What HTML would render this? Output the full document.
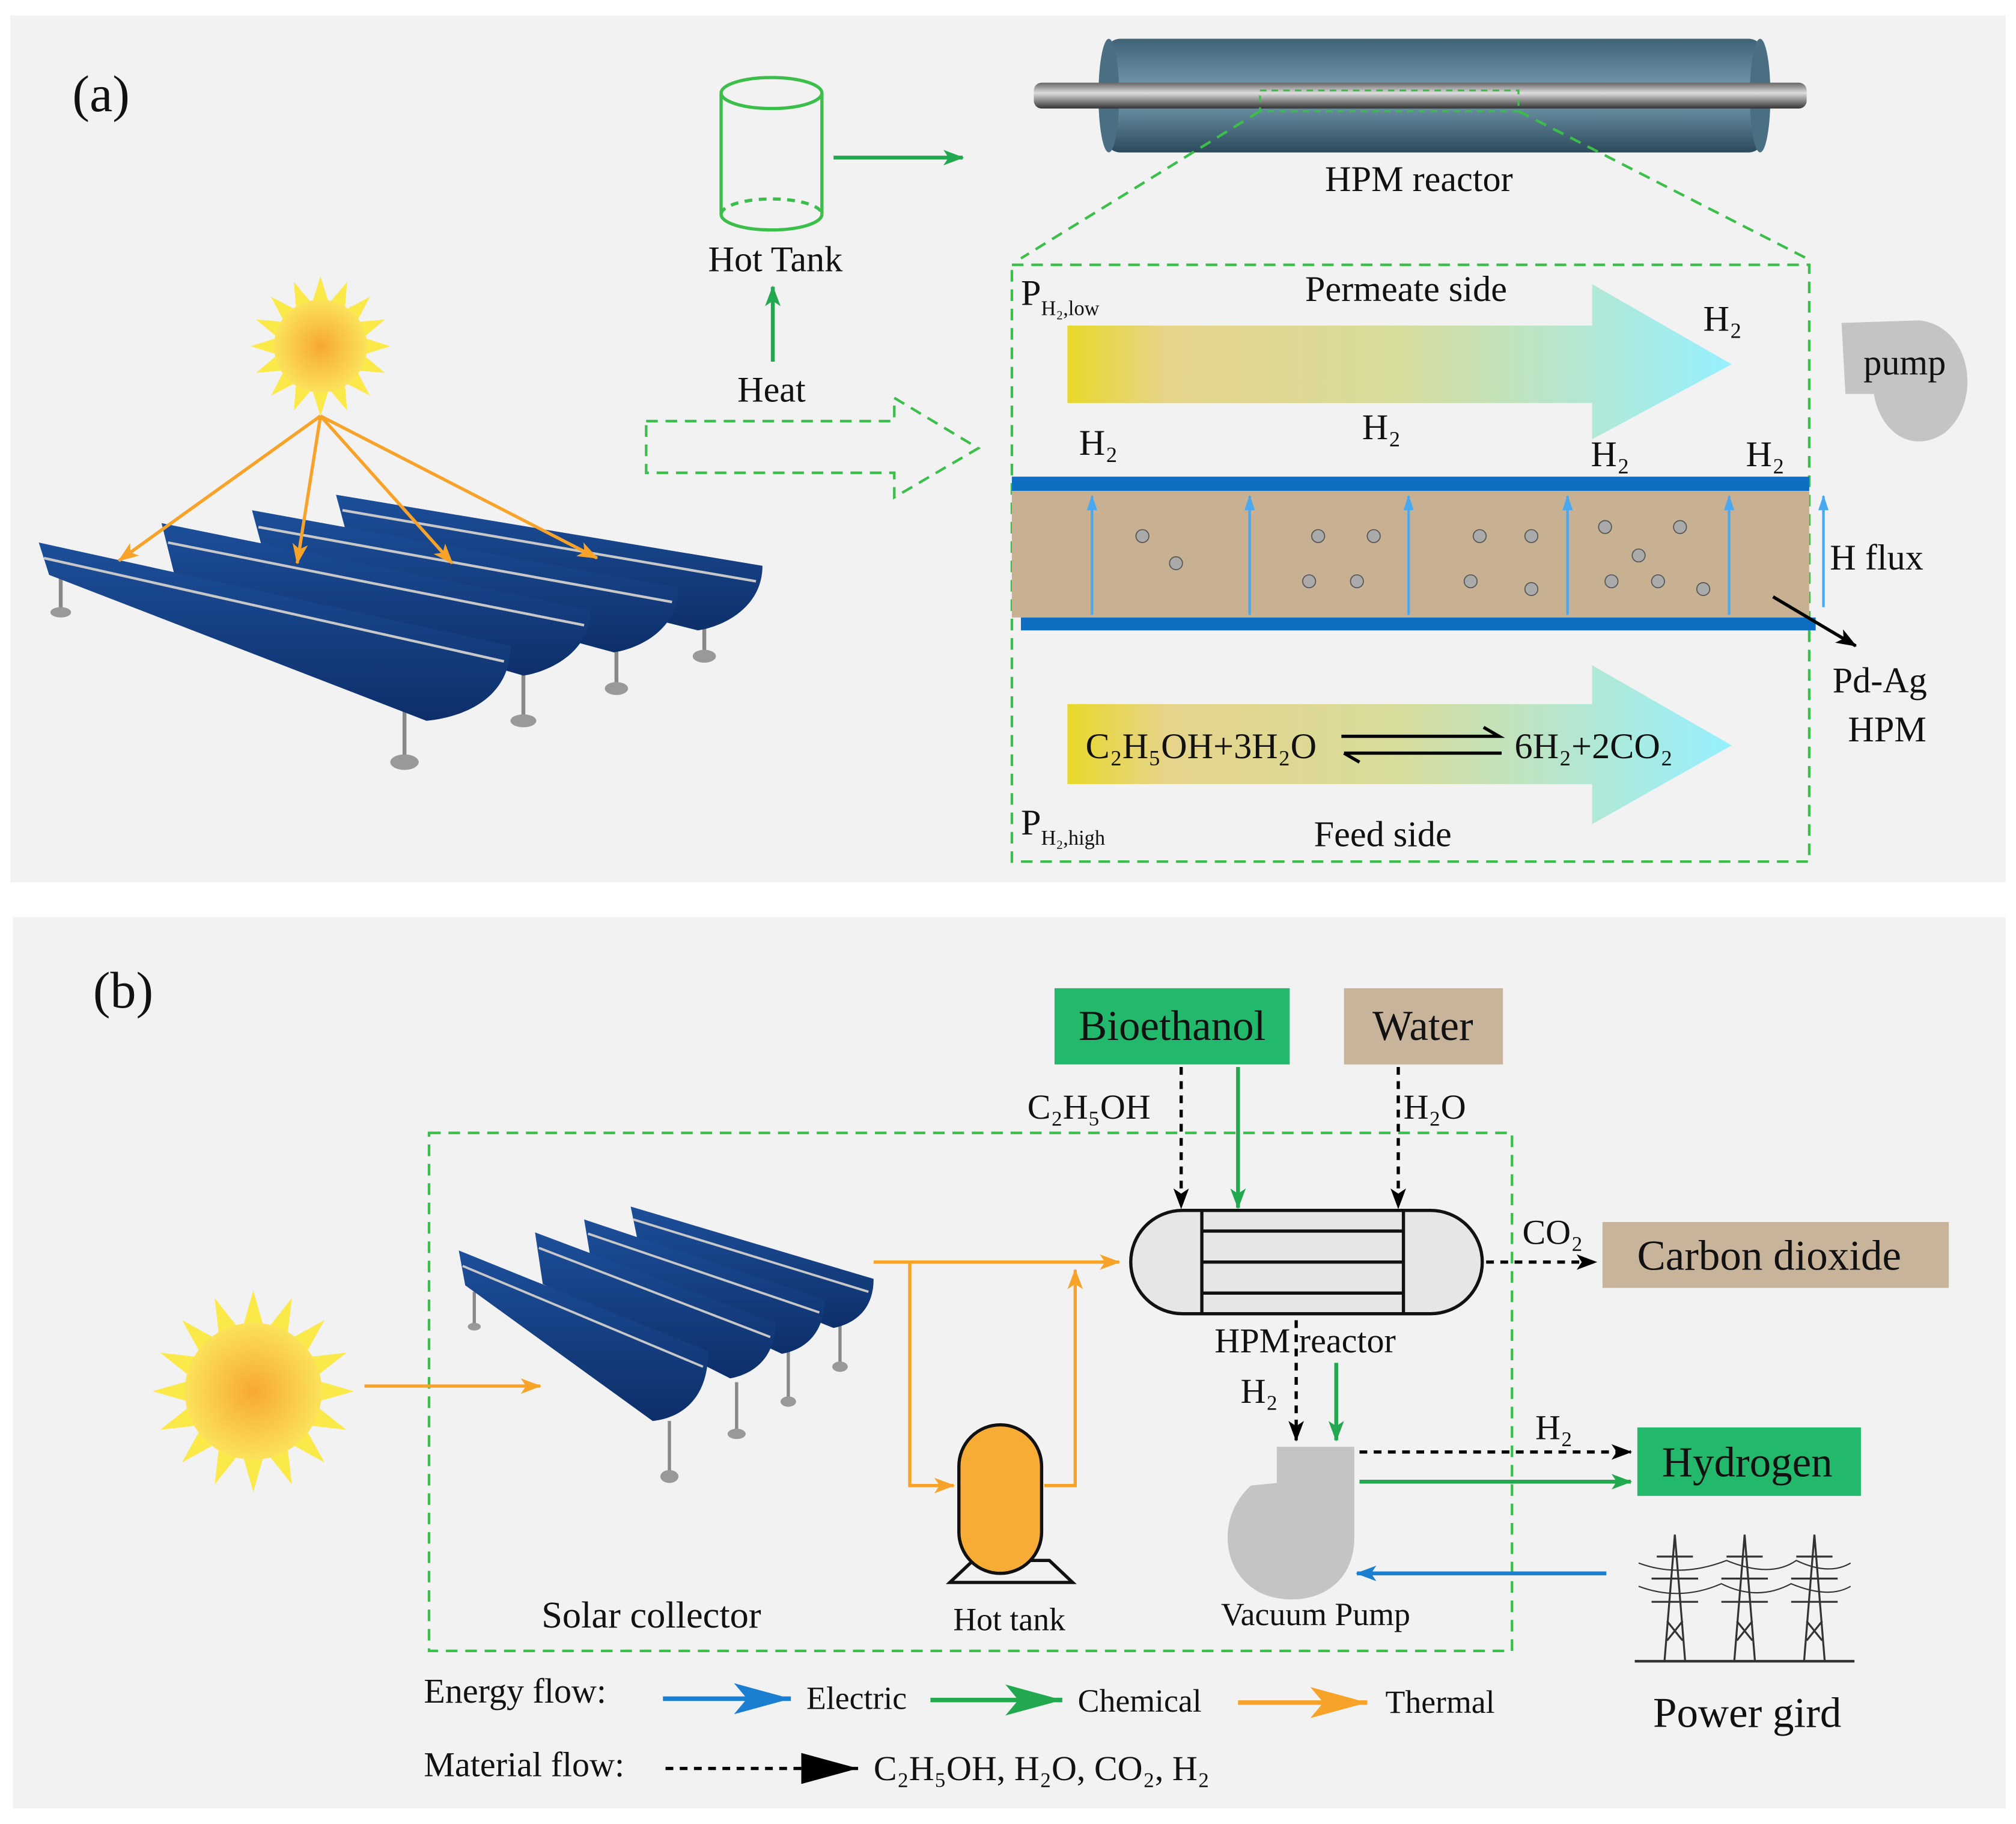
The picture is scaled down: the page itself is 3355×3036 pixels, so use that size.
<!DOCTYPE html>
<html><head><meta charset="utf-8"><style>
html,body{margin:0;padding:0;background:#fff;}
svg{display:block;}
text{font-family:"Liberation Serif",serif;fill:#111;}
</style></head><body>
<svg width="3355" height="3036" viewBox="0 0 1560 1412" preserveAspectRatio="none" xmlns="http://www.w3.org/2000/svg">
<defs>
<marker id="aO" markerWidth="16" markerHeight="12" refX="15" refY="6" orient="auto" markerUnits="userSpaceOnUse"><path d="M0,0 L16,6 L0,12 L4,6z" fill="#f7a32a"/></marker>
<marker id="ag" markerWidth="16" markerHeight="12" refX="15" refY="6" orient="auto" markerUnits="userSpaceOnUse"><path d="M0,0 L16,6 L0,12 L4,6z" fill="#22a94f"/></marker>
<marker id="ak" markerWidth="16" markerHeight="12" refX="15" refY="6" orient="auto" markerUnits="userSpaceOnUse"><path d="M0,0 L16,6 L0,12 L4,6z" fill="#000"/></marker>
<marker id="ab" markerWidth="16" markerHeight="12" refX="15" refY="6" orient="auto" markerUnits="userSpaceOnUse"><path d="M0,0 L16,6 L0,12 L4,6z" fill="#1a7fd0"/></marker>
<marker id="LO" markerWidth="44" markerHeight="24" refX="44" refY="12" orient="auto" markerUnits="userSpaceOnUse"><path d="M0,0 L44,12 L0,24 L10,12z" fill="#f7a32a"/></marker>
<marker id="Lg" markerWidth="44" markerHeight="24" refX="44" refY="12" orient="auto" markerUnits="userSpaceOnUse"><path d="M0,0 L44,12 L0,24 L10,12z" fill="#22a94f"/></marker>
<marker id="Lb" markerWidth="44" markerHeight="24" refX="44" refY="12" orient="auto" markerUnits="userSpaceOnUse"><path d="M0,0 L44,12 L0,24 L10,12z" fill="#1a7fd0"/></marker>
<marker id="Lk" markerWidth="44" markerHeight="24" refX="44" refY="12" orient="auto" markerUnits="userSpaceOnUse"><path d="M0,0 L44,12 L0,24z" fill="#000"/></marker>
<marker id="alb" markerWidth="12" markerHeight="8" refX="11" refY="4" orient="auto" markerUnits="userSpaceOnUse"><path d="M0,0 L12,4 L0,8z" fill="#4aa8f0"/></marker>
<linearGradient id="grad" x1="0" x2="1"><stop offset="0" stop-color="#e8d82a"/><stop offset="0.15" stop-color="#e6d48a"/><stop offset="0.5" stop-color="#d7dc9c"/><stop offset="1" stop-color="#96f0ff"/></linearGradient>
<radialGradient id="sun"><stop offset="0" stop-color="#f7a830"/><stop offset="1" stop-color="#fbe25a"/></radialGradient>
<linearGradient id="tube" x1="0" y1="0" x2="0" y2="1"><stop offset="0" stop-color="#666"/><stop offset="0.4" stop-color="#ddd"/><stop offset="1" stop-color="#333"/></linearGradient>
<linearGradient id="shell" x1="0" y1="0" x2="0" y2="1"><stop offset="0" stop-color="#3f6276"/><stop offset="0.5" stop-color="#7aa0b4"/><stop offset="1" stop-color="#2c4a5c"/></linearGradient>
<linearGradient id="trough" x1="0" y1="0" x2="0" y2="1"><stop offset="0" stop-color="#1d4f9a"/><stop offset="1" stop-color="#0d2f6a"/></linearGradient>
</defs>

<rect x="8" y="12" width="1544" height="671" fill="#f2f2f2"/>
<rect x="10" y="710" width="1542" height="690" fill="#f2f2f2"/>

<!-- ========== (a) ========== -->
<text x="56" y="86" font-size="40">(a)</text>

<g fill="none" stroke="#3cbf4a" stroke-width="2.5">
<path d="M558,72 L558,166 M636,72 L636,166"/>
<ellipse cx="597" cy="72" rx="39" ry="12"/>
<path d="M558,166 A39,12 0 0 0 636,166"/>
<path d="M558,166 A39,12 0 0 1 636,166" stroke-dasharray="6,5"/>
</g>
<text x="600" y="210" font-size="28" text-anchor="middle">Hot Tank</text>
<line x1="598" y1="280" x2="598" y2="222" stroke="#22a94f" stroke-width="3" marker-end="url(#ag)"/>
<text x="597" y="311" font-size="28" text-anchor="middle">Heat</text>
<line x1="645" y1="122" x2="745" y2="122" stroke="#22a94f" stroke-width="3" marker-end="url(#ag)"/>

<rect x="855" y="30" width="510" height="88" rx="12" fill="url(#shell)"/>
<ellipse cx="858" cy="74" rx="8" ry="44" fill="#4a6e82"/>
<ellipse cx="1362" cy="74" rx="8" ry="44" fill="#4a6e82"/>
<rect x="800" y="64" width="598" height="20" rx="6" fill="url(#tube)"/>
<rect x="975" y="70" width="200" height="16" fill="none" stroke="#3cbf4a" stroke-width="1.5" stroke-dasharray="5,4"/>
<text x="1098" y="148" font-size="28" text-anchor="middle">HPM reactor</text>
<g stroke="#3cbf4a" stroke-width="2" stroke-dasharray="9,6" fill="none">
<line x1="975" y1="86" x2="790" y2="200"/>
<line x1="1175" y1="86" x2="1398" y2="200"/>
<rect x="783" y="205" width="617" height="462"/>
<path d="M500,326 L692,326 L692,308 L757,347 L692,385 L692,366 L500,366 Z"/>
</g>

<path d="M826,252 L1232,252 L1232,220 L1340,282 L1232,340 L1232,312 L826,312 Z" fill="url(#grad)"/>
<text x="1088" y="233" font-size="28" text-anchor="middle">Permeate side</text>
<text x="790" y="236" font-size="28">P<tspan font-size="16" dy="8">H₂,low</tspan></text>
<text x="1318" y="256" font-size="28">H₂</text>
<text x="1054" y="340" font-size="28">H₂</text>
<text x="835" y="352" font-size="28">H₂</text>
<text x="1231" y="361" font-size="28">H₂</text>
<text x="1351" y="361" font-size="28">H₂</text>
<path d="M1425,250 L1485,248 C1525,252 1535,310 1505,335 C1480,352 1455,335 1450,305 L1428,305 Z" fill="#c4c4c4"/>
<text x="1442" y="290" font-size="28">pump</text>

<rect x="783" y="369" width="617" height="11" fill="#0e6fc2"/>
<rect x="783" y="380" width="617" height="98" fill="#c8b092"/>
<rect x="790" y="478" width="615" height="10" fill="#0e6fc2"/>
<g stroke="#4aa8f0" stroke-width="2">
<line x1="845" y1="476" x2="845" y2="384" marker-end="url(#alb)"/>
<line x1="967" y1="476" x2="967" y2="384" marker-end="url(#alb)"/>
<line x1="1090" y1="476" x2="1090" y2="384" marker-end="url(#alb)"/>
<line x1="1213" y1="476" x2="1213" y2="384" marker-end="url(#alb)"/>
<line x1="1338" y1="476" x2="1338" y2="384" marker-end="url(#alb)"/>
<line x1="1411" y1="470" x2="1411" y2="384" marker-end="url(#alb)"/>
</g>
<g fill="#aaa" stroke="#555" stroke-width="0.8">
<circle cx="884" cy="415" r="5"/><circle cx="910" cy="436" r="5"/>
<circle cx="1020" cy="415" r="5"/><circle cx="1063" cy="415" r="5"/><circle cx="1013" cy="450" r="5"/><circle cx="1050" cy="450" r="5"/>
<circle cx="1145" cy="415" r="5"/><circle cx="1185" cy="415" r="5"/><circle cx="1138" cy="450" r="5"/><circle cx="1185" cy="456" r="5"/>
<circle cx="1242" cy="408" r="5"/><circle cx="1300" cy="408" r="5"/><circle cx="1268" cy="430" r="5"/><circle cx="1247" cy="450" r="5"/><circle cx="1283" cy="450" r="5"/><circle cx="1318" cy="456" r="5"/>
</g>
<text x="1416" y="441" font-size="28">H flux</text>
<line x1="1372" y1="462" x2="1436" y2="500" stroke="#000" stroke-width="2.5" marker-end="url(#ak)"/>
<text x="1418" y="536" font-size="28">Pd-Ag</text>
<text x="1430" y="574" font-size="28">HPM</text>

<path d="M826,545 L1232,545 L1232,515 L1340,577 L1232,638 L1232,607 L826,607 Z" fill="url(#grad)"/>
<text x="840" y="587" font-size="28">C₂H₅OH+3H₂O</text>
<path d="M1038,570 L1160,570 L1148,563 M1040,583 L1162,583 M1040,583 L1052,590" stroke="#000" stroke-width="2.5" fill="none"/>
<text x="1172" y="587" font-size="28">6H₂+2CO₂</text>
<text x="790" y="646" font-size="28">P<tspan font-size="16" dy="8">H₂,high</tspan></text>
<text x="1070" y="655" font-size="28" text-anchor="middle">Feed side</text>

<g transform="translate(248,268)">
<g fill="#fbe94a">
<path d="M0,-54 L6,-35 L-6,-35Z M0,54 L6,35 L-6,35Z M-54,0 L-35,6 L-35,-6Z M54,0 L35,6 L35,-6Z"/>
<path d="M0,-54 L6,-35 L-6,-35Z" transform="rotate(22.5)"/><path d="M0,-54 L6,-35 L-6,-35Z" transform="rotate(45)"/><path d="M0,-54 L6,-35 L-6,-35Z" transform="rotate(67.5)"/>
<path d="M0,-54 L6,-35 L-6,-35Z" transform="rotate(112.5)"/><path d="M0,-54 L6,-35 L-6,-35Z" transform="rotate(135)"/><path d="M0,-54 L6,-35 L-6,-35Z" transform="rotate(157.5)"/>
<path d="M0,-54 L6,-35 L-6,-35Z" transform="rotate(202.5)"/><path d="M0,-54 L6,-35 L-6,-35Z" transform="rotate(225)"/><path d="M0,-54 L6,-35 L-6,-35Z" transform="rotate(247.5)"/>
<path d="M0,-54 L6,-35 L-6,-35Z" transform="rotate(292.5)"/><path d="M0,-54 L6,-35 L-6,-35Z" transform="rotate(315)"/><path d="M0,-54 L6,-35 L-6,-35Z" transform="rotate(337.5)"/>
</g>
<circle r="36" fill="url(#sun)"/>
</g>

<g>
<g stroke="#888" stroke-width="3"><line x1="545" y1="470" x2="545" y2="505"/><line x1="477" y1="495" x2="477" y2="530"/><line x1="405" y1="520" x2="405" y2="556"/><line x1="313" y1="550" x2="313" y2="588"/><line x1="47" y1="440" x2="47" y2="472"/></g>
<g fill="#999"><ellipse cx="545" cy="508" rx="9" ry="5"/><ellipse cx="477" cy="533" rx="9" ry="5"/><ellipse cx="405" cy="558" rx="10" ry="5"/><ellipse cx="313" cy="590" rx="11" ry="6"/><ellipse cx="47" cy="474" rx="8" ry="4"/></g>
<path d="M260,383 L590,438 C590,470 560,485 540,488 L270,420 Z" fill="url(#trough)"/>
<path d="M195,395 L525,455 C525,487 495,502 475,505 L205,432 Z" fill="url(#trough)"/>
<path d="M125,405 L457,472 C457,505 425,520 405,523 L135,445 Z" fill="url(#trough)"/>
<path d="M30,420 L395,500 C395,540 360,555 330,558 L38,445 Z" fill="url(#trough)"/>
<g stroke="#c8c8c8" stroke-width="2"><line x1="265" y1="395" x2="585" y2="450"/><line x1="200" y1="408" x2="520" y2="466"/><line x1="130" y1="420" x2="452" y2="484"/><line x1="34" y1="432" x2="390" y2="512"/></g>
</g>
<g stroke="#f7a32a" stroke-width="2.5" fill="none">
<line x1="248" y1="322" x2="92" y2="434" marker-end="url(#aO)"/>
<line x1="248" y1="322" x2="230" y2="436" marker-end="url(#aO)"/>
<line x1="248" y1="322" x2="350" y2="436" marker-end="url(#aO)"/>
<line x1="248" y1="322" x2="462" y2="432" marker-end="url(#aO)"/>
</g>

<!-- ========== (b) ========== -->
<text x="72" y="780" font-size="40">(b)</text>
<rect x="332" y="877" width="838" height="401" fill="none" stroke="#3cbf4a" stroke-width="2" stroke-dasharray="9,6"/>

<rect x="816" y="765" width="182" height="59" fill="#23b96c"/>
<text x="907" y="805" font-size="33" text-anchor="middle">Bioethanol</text>
<rect x="1040" y="765" width="123" height="59" fill="#c8b49a"/>
<text x="1101" y="805" font-size="33" text-anchor="middle">Water</text>
<text x="795" y="866" font-size="27">C₂H₅OH</text>
<text x="1086" y="866" font-size="27">H₂O</text>
<g stroke="#000" stroke-width="2.5" stroke-dasharray="6,5">
<line x1="914" y1="826" x2="914" y2="935" marker-end="url(#ak)"/>
<line x1="1082" y1="826" x2="1082" y2="935" marker-end="url(#ak)"/>
</g>
<line x1="958" y1="826" x2="958" y2="935" stroke="#22a94f" stroke-width="3" marker-end="url(#ag)"/>

<rect x="875" y="937" width="272" height="80" rx="40" fill="#e6e6e6" stroke="#111" stroke-width="2.5"/>
<g stroke="#111" stroke-width="2.5"><line x1="930" y1="937" x2="930" y2="1017"/><line x1="1086" y1="937" x2="1086" y2="1017"/>
<line x1="930" y1="953" x2="1086" y2="953"/><line x1="930" y1="977" x2="1086" y2="977"/><line x1="930" y1="1001" x2="1086" y2="1001"/></g>
<text x="1010" y="1047" font-size="27" text-anchor="middle">HPM reactor</text>
<line x1="1150" y1="977" x2="1235" y2="977" stroke="#000" stroke-width="2.5" stroke-dasharray="6,5" marker-end="url(#ak)"/>
<text x="1178" y="963" font-size="27">CO₂</text>
<rect x="1240" y="946" width="268" height="51" fill="#c8b49a"/>
<text x="1369" y="983" font-size="33" text-anchor="middle">Carbon dioxide</text>

<text x="960" y="1086" font-size="27">H₂</text>
<line x1="1003" y1="1022" x2="1003" y2="1115" stroke="#000" stroke-width="2.5" stroke-dasharray="6,5" marker-end="url(#ak)"/>
<line x1="1034" y1="1055" x2="1034" y2="1115" stroke="#22a94f" stroke-width="3" marker-end="url(#ag)"/>

<path d="M988,1120 L1048,1120 L1048,1190 C1048,1232 1010,1245 980,1235 C945,1222 940,1175 968,1150 L988,1148 Z" fill="#c4c4c4"/>
<text x="1018" y="1258" font-size="25" text-anchor="middle">Vacuum Pump</text>
<line x1="1052" y1="1124" x2="1262" y2="1124" stroke="#000" stroke-width="2.5" stroke-dasharray="6,5" marker-end="url(#ak)"/>
<text x="1188" y="1114" font-size="27">H₂</text>
<line x1="1052" y1="1147" x2="1262" y2="1147" stroke="#22a94f" stroke-width="3" marker-end="url(#ag)"/>
<rect x="1267" y="1105" width="173" height="53" fill="#23b96c"/>
<text x="1352" y="1143" font-size="33" text-anchor="middle">Hydrogen</text>
<line x1="1243" y1="1218" x2="1050" y2="1218" stroke="#1a7fd0" stroke-width="3" marker-end="url(#ab)"/>

<g stroke="#333" stroke-width="1.5" fill="none">
<line x1="1265" y1="1286" x2="1435" y2="1286" stroke-width="2"/>
<path d="M1288,1286 L1296,1188 L1304,1286 M1282,1205 L1310,1205 M1278,1222 L1314,1222 M1278,1240 L1314,1240 M1290,1255 L1302,1270 M1302,1255 L1290,1270"/>
<path d="M1342,1286 L1350,1188 L1358,1286 M1336,1205 L1364,1205 M1332,1222 L1368,1222 M1332,1240 L1368,1240 M1344,1255 L1356,1270 M1356,1255 L1344,1270"/>
<path d="M1396,1286 L1404,1188 L1412,1286 M1390,1205 L1418,1205 M1386,1222 L1422,1222 M1386,1240 L1422,1240 M1398,1255 L1410,1270 M1410,1255 L1398,1270"/>
<path d="M1268,1210 Q1300,1222 1336,1208 Q1370,1222 1390,1208 Q1415,1220 1432,1210 M1268,1228 Q1300,1240 1332,1226 Q1360,1240 1386,1226 Q1415,1238 1432,1228" stroke-width="1"/>
</g>
<text x="1352" y="1337" font-size="33" text-anchor="middle">Power gird</text>

<g transform="translate(196,1077)">
<g fill="#fbe94a">
<path d="M0,-78 L8,-50 L-8,-50Z"/><path d="M0,-78 L8,-50 L-8,-50Z" transform="rotate(22.5)"/><path d="M0,-78 L8,-50 L-8,-50Z" transform="rotate(45)"/><path d="M0,-78 L8,-50 L-8,-50Z" transform="rotate(67.5)"/>
<path d="M0,-78 L8,-50 L-8,-50Z" transform="rotate(90)"/><path d="M0,-78 L8,-50 L-8,-50Z" transform="rotate(112.5)"/><path d="M0,-78 L8,-50 L-8,-50Z" transform="rotate(135)"/><path d="M0,-78 L8,-50 L-8,-50Z" transform="rotate(157.5)"/>
<path d="M0,-78 L8,-50 L-8,-50Z" transform="rotate(180)"/><path d="M0,-78 L8,-50 L-8,-50Z" transform="rotate(202.5)"/><path d="M0,-78 L8,-50 L-8,-50Z" transform="rotate(225)"/><path d="M0,-78 L8,-50 L-8,-50Z" transform="rotate(247.5)"/>
<path d="M0,-78 L8,-50 L-8,-50Z" transform="rotate(270)"/><path d="M0,-78 L8,-50 L-8,-50Z" transform="rotate(292.5)"/><path d="M0,-78 L8,-50 L-8,-50Z" transform="rotate(315)"/><path d="M0,-78 L8,-50 L-8,-50Z" transform="rotate(337.5)"/>
</g>
<circle r="53" fill="url(#sun)"/>
</g>
<line x1="282" y1="1073" x2="418" y2="1073" stroke="#f7a32a" stroke-width="2.5" marker-end="url(#aO)"/>

<g>
<g stroke="#888" stroke-width="2.5"><line x1="650" y1="1020" x2="650" y2="1055"/><line x1="610" y1="1045" x2="610" y2="1082"/><line x1="570" y1="1070" x2="570" y2="1108"/><line x1="518" y1="1100" x2="518" y2="1140"/><line x1="367" y1="1000" x2="367" y2="1025"/></g>
<g fill="#999"><ellipse cx="650" cy="1058" rx="6" ry="4"/><ellipse cx="610" cy="1085" rx="6" ry="4"/><ellipse cx="570" cy="1110" rx="7" ry="4"/><ellipse cx="518" cy="1143" rx="7" ry="5"/><ellipse cx="367" cy="1027" rx="5" ry="3"/></g>
<path d="M488,934 L676,990 C676,1015 660,1025 645,1028 L495,968 Z" fill="url(#trough)"/>
<path d="M452,944 L638,1006 C638,1033 622,1045 605,1048 L458,980 Z" fill="url(#trough)"/>
<path d="M414,954 L600,1024 C600,1052 582,1064 565,1067 L420,994 Z" fill="url(#trough)"/>
<path d="M355,968 L548,1046 C548,1085 525,1098 505,1100 L360,995 Z" fill="url(#trough)"/>
<g stroke="#c8c8c8" stroke-width="1.8"><line x1="490" y1="944" x2="672" y2="1000"/><line x1="455" y1="955" x2="634" y2="1016"/><line x1="417" y1="966" x2="596" y2="1035"/><line x1="358" y1="980" x2="544" y2="1058"/></g>
</g>
<text x="504" y="1260" font-size="29" text-anchor="middle">Solar collector</text>

<g stroke="#f7a32a" stroke-width="2.5" fill="none">
<line x1="676" y1="977" x2="866" y2="977" marker-end="url(#aO)"/>
<polyline points="704,977 704,1150 738,1150" marker-end="url(#aO)"/>
<polyline points="808,1150 832,1150 832,983" marker-end="url(#aO)"/>
</g>
<path d="M735,1225 L830,1225 L812,1208 L753,1208 Z" fill="none" stroke="#111" stroke-width="2.5"/>
<rect x="742" y="1103" width="64" height="115" rx="32" fill="#f7ad35" stroke="#111" stroke-width="2.5"/>
<text x="781" y="1262" font-size="25" text-anchor="middle">Hot tank</text>

<text x="328" y="1318" font-size="27">Energy flow:</text>
<line x1="513" y1="1315" x2="612" y2="1315" stroke="#1a7fd0" stroke-width="3.5" marker-end="url(#Lb)"/>
<text x="624" y="1323" font-size="25">Electric</text>
<line x1="720" y1="1316" x2="822" y2="1316" stroke="#22a94f" stroke-width="3.5" marker-end="url(#Lg)"/>
<text x="834" y="1325" font-size="25">Chemical</text>
<line x1="958" y1="1318" x2="1058" y2="1318" stroke="#f7a32a" stroke-width="3.5" marker-end="url(#LO)"/>
<text x="1072" y="1326" font-size="25">Thermal</text>
<text x="328" y="1375" font-size="27">Material flow:</text>
<line x1="515" y1="1369" x2="664" y2="1369" stroke="#000" stroke-width="2.5" stroke-dasharray="6,5" marker-end="url(#Lk)"/>
<text x="676" y="1378" font-size="27">C₂H₅OH, H₂O, CO₂, H₂</text>
</svg>
</body></html>
